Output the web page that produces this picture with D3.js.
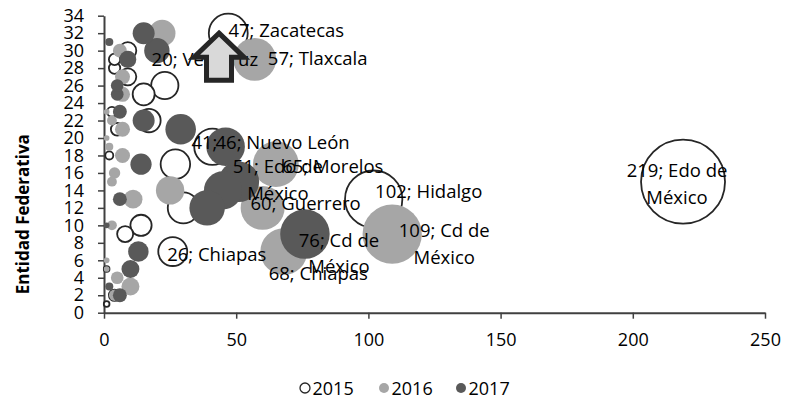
<!DOCTYPE html>
<html>
<head>
<meta charset="utf-8">
<script src="https://cdnjs.cloudflare.com/ajax/libs/d3/7.8.5/d3.min.js"></script>
<style>
  html, body { margin: 0; padding: 0; background: #fff; }
  svg { display: block; font-family: "Open Sans", sans-serif; }
</style>
</head>
<body>
<svg id="chart" width="791" height="402"></svg>
<script>
// Entidad federativa index (1..32) on the y axis
const entidades = d3.range(1, 33);

// Values per entidad, one array per year (bubble x position and bubble size)
const v2015 = [1, 4, 0, 0, 1, 0, 26, 0, 8, 14, 0, 30, 102, 0, 219, 0,
               27, 2, 41, 0, 5, 17, 3, 0, 15, 23, 9, 4, 4, 9, 0, 47];
const v2016 = [0, 4, 10, 5, 1, 1, 68, 0, 109, 3, 0, 60, 11, 25, 3, 4,
               65, 7, 2, 1, 7, 3, 1, 0, 7, 0, 7, 0, 57, 6, 0, 22];
const v2017 = [0, 6, 2, 0, 10, 0, 13, 0, 76, 1, 0, 39, 6, 45, 51, 0,
               14, 0, 46, 0, 29, 15, 6, 0, 5, 5, 0, 0, 9, 20, 2, 15];

const years = ["2015", "2016", "2017"];
const seriesValues = [v2015, v2016, v2017];

const xTicks = [0, 50, 100, 150, 200, 250];
const yTicks = d3.range(0, 35, 2);

// Data labels: series index, entidad index, name lines
const labels = [
  { s: 0, e: 32, lines: ["Zacatecas"],        dx: 58,  dy: [-4] },
  { s: 2, e: 30, lines: ["Veracruz"],         dx: 48,  dy: [7.5] },
  { s: 1, e: 29, lines: ["Tlaxcala"],         dx: 63,  dy: [-1.5] },
  { s: 0, e: 19, lines: [""],                 dx: -8,  dy: [-5] },
  { s: 2, e: 19, lines: ["Nuevo León"],       dx: 57,  dy: [-5] },
  { s: 2, e: 15, lines: ["Edo de", "México"], dx: 39,  dy: [-15.7, 11.3] },
  { s: 1, e: 17, lines: ["Morelos"],          dx: 57,  dy: [1.3] },
  { s: 1, e: 12, lines: ["Guerrero"],         dx: 43,  dy: [-5] },
  { s: 0, e: 7,  lines: ["Chiapas"],          dx: 44,  dy: [1.5] },
  { s: 1, e: 7,  lines: ["Chiapas"],          dx: 34.5, dy: [21] },
  { s: 2, e: 9,  lines: ["Cd de", "México"],  dx: 34,  dy: [5, 31.4] },
  { s: 0, e: 13, lines: ["Hidalgo"],          dx: 55,  dy: [-9] },
  { s: 1, e: 9,  lines: ["Cd de", "México"],  dx: 52,  dy: [-4.8, 22.2] },
  { s: 0, e: 15, lines: ["Edo de", "México"], dx: -6,  dy: [-11.7, 15] }
];

// Block-arrow annotation, anchored in data units
const arrowX = 43.5, arrowTop = 32.0, arrowBottom = 26.6;

const svg = d3.select("#chart");
const plot = { left: 104, right: 765, top: 15.7, bottom: 312.7 };

const x = d3.scaleLinear().domain([0, 250]).range([plot.left, plot.right]);
const y = d3.scaleLinear().domain([0, 34]).range([plot.bottom, plot.top]);
const r = d3.scaleSqrt().domain([0, 219]).range([0, 42]);

const fills = ["#ffffff", "#a6a6a6", "#595959"];
const strokes = ["#262626", "none", "none"];

// Axes
const axisColor = "#404040";
const gy = svg.append("g").attr("transform", `translate(${plot.left},0)`)
  .call(d3.axisLeft(y).tickValues(yTicks).tickSize(6).tickSizeOuter(0).tickPadding(14));
const gx = svg.append("g").attr("transform", `translate(0,${plot.bottom})`)
  .call(d3.axisBottom(x).tickValues(xTicks).tickSize(6).tickSizeOuter(0).tickPadding(14.5));
[gx, gy].forEach(g => {
  g.select(".domain").attr("stroke", axisColor).attr("stroke-width", 2);
  g.selectAll(".tick line").attr("stroke", axisColor).attr("stroke-width", 1.5);
  g.selectAll(".tick text").attr("fill", "#000").style("font-size", "18px")
    .style("font-family", "'Open Sans', sans-serif");
});

// Y axis title
svg.append("text")
  .attr("transform", `translate(22,${(plot.top + plot.bottom) / 2 + 50}) rotate(-90)`)
  .attr("text-anchor", "middle")
  .attr("dominant-baseline", "central")
  .style("font-size", "17px").style("font-weight", "bold")
  .text("Entidad Federativa");

// Bubbles: one group per year, larger bubbles drawn first
seriesValues.forEach((vals, si) => {
  const pts = entidades.map((e, i) => ({ e, v: vals[i] }))
    .filter(d => d.v > 0)
    .sort((a, b) => b.v - a.v);
  svg.append("g").selectAll("circle").data(pts).join("circle")
    .attr("cx", d => x(d.v))
    .attr("cy", d => y(d.e))
    .attr("r", d => r(d.v))
    .attr("fill", fills[si])
    .attr("stroke", strokes[si])
    .attr("stroke-width", 1.8);
});

// Data labels "valor; entidad"
const lg = svg.append("g").style("font-size", "18.5px").attr("fill", "#000");
labels.forEach(l => {
  const v = seriesValues[l.s][l.e - 1];
  const cx = x(v), cy = y(l.e);
  l.lines.forEach((line, k) => {
    const txt = k === 0 ? (line ? `${v}; ${line}` : `${v};`) : line;
    lg.append("text")
      .attr("x", cx + l.dx)
      .attr("y", cy + l.dy[k])
      .attr("text-anchor", "middle")
      .attr("dominant-baseline", "central")
      .text(txt);
  });
});

// Up arrow annotation
const ax = x(arrowX), aTop = y(arrowTop), aBot = y(arrowBottom);
const headW = 25, shaftW = 12.5, headH = 24;
const arrowPath = d3.path();
arrowPath.moveTo(ax, aTop);
arrowPath.lineTo(ax + headW, aTop + headH);
arrowPath.lineTo(ax + shaftW, aTop + headH);
arrowPath.lineTo(ax + shaftW, aBot);
arrowPath.lineTo(ax - shaftW, aBot);
arrowPath.lineTo(ax - shaftW, aTop + headH);
arrowPath.lineTo(ax - headW, aTop + headH);
arrowPath.closePath();
svg.append("path").attr("d", arrowPath.toString())
  .attr("fill", "#d9d9d9").attr("stroke", "#262626")
  .attr("stroke-width", 5).attr("stroke-linejoin", "miter");

// Legend
const legendY = 388;
const legendItems = years.map((yr, i) => ({ yr, i }));
const legX = [305, 384, 461];
const leg = svg.append("g");
legendItems.forEach(d => {
  leg.append("circle").attr("cx", legX[d.i]).attr("cy", legendY).attr("r", 5)
    .attr("fill", fills[d.i]).attr("stroke", d.i === 0 ? "#262626" : "none").attr("stroke-width", 1.3);
  leg.append("text").attr("x", legX[d.i] + 7.5).attr("y", legendY)
    .attr("dominant-baseline", "central").style("font-size", "18px").text(d.yr);
});
</script>
</body>
</html>
